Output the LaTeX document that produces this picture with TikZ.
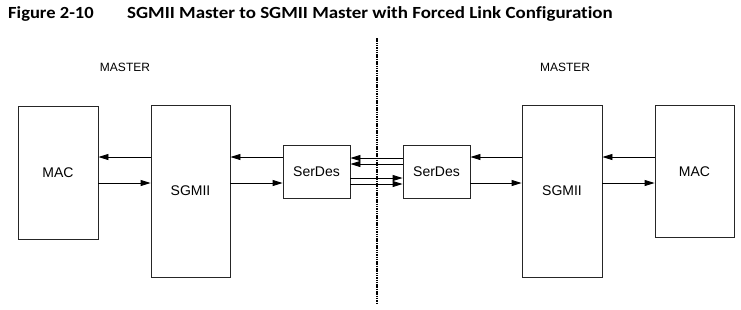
\documentclass[tikz,border=0pt]{standalone}
\usepackage{fontspec}
\setmainfont{Liberation Sans}
\newfontfamily\titlefont[Ligatures=NoCommon]{Carlito}
\usepackage{tikz}
\usetikzlibrary{arrows.meta}
\usetikzlibrary{positioning}

\begin{document}
\begin{tikzpicture}[x=1pt,y=-1pt,
  every node/.style={inner sep=0pt,font=\fontsize{14}{16}\selectfont},
  blk/.style={draw=black!85,line width=0.8pt,rectangle},
  sig/.style={draw,line width=0.8pt,-{Triangle[length=10pt,width=6pt]}},
  lbl/.style={font=\fontsize{12}{14}\selectfont},
  ttl/.style={anchor=west,font=\titlefont\bfseries\fontsize{17}{19}\selectfont}]
\useasboundingbox (0,0) rectangle (741,309);
% title
\node[ttl] (fig) at (8,14) {\scalebox{1.09}[1]{Figure 2-10}};
\node[ttl] (title) at (127,14)
  {\scalebox{1.115}[1]{SGMII Master to SGMII Master with Forced Link Configuration}};
% boxes
\node[blk,minimum width=80pt,minimum height=133pt] (macL) at (58,172.5) {MAC};
\node[blk,minimum width=79pt,minimum height=172pt] (sgmiiL) at (190.5,191) {SGMII};
\node[blk,minimum width=67pt,minimum height=53pt] (serdesL) at (316.5,171.5) {SerDes};
\node[blk,minimum width=67pt,minimum height=53pt] (serdesR) at (436.5,171.5) {SerDes};
\node[blk,minimum width=80pt,minimum height=172pt] (sgmiiR) at (562,191) {SGMII};
\node[blk,minimum width=79pt,minimum height=132pt] (macR) at (694.5,171.5) {MAC};
\node[lbl] (mstL) at (125,67) {MASTER};
\node[lbl] (mstR) at (565,67) {MASTER};
% divider
\coordinate (divT) at (377,38);
\coordinate (divB) at (377,303);
\draw[line width=1.8pt,dash pattern=on 1.5pt off 0.8pt] (divT) -- (divB);
% left side
\draw[sig] (sgmiiL.west |- 0,157) -- (macL.east |- 0,157);
\draw[sig] (macL.east |- 0,183) -- (sgmiiL.west |- 0,183);
\draw[sig] (serdesL.west |- 0,157) -- (sgmiiL.east |- 0,157);
\draw[sig] (sgmiiL.east |- 0,183) -- (serdesL.west |- 0,183);
% link
\draw[sig] (serdesR.west |- 0,158) -- (serdesL.east |- 0,158);
\draw[sig] (serdesR.west |- 0,164) -- (serdesL.east |- 0,164);
\draw[sig] (serdesL.east |- 0,178) -- (serdesR.west |- 0,178);
\draw[sig] (serdesL.east |- 0,184) -- (serdesR.west |- 0,184);
% right side
\draw[sig] (sgmiiR.west |- 0,157) -- (serdesR.east |- 0,157);
\draw[sig] (serdesR.east |- 0,183) -- (sgmiiR.west |- 0,183);
\draw[sig] (macR.west |- 0,157) -- (sgmiiR.east |- 0,157);
\draw[sig] (sgmiiR.east |- 0,183) -- (macR.west |- 0,183);
\end{tikzpicture}
\end{document}
